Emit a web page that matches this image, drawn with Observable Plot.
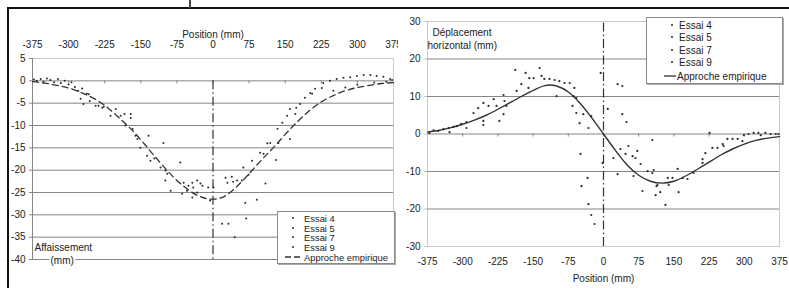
<!DOCTYPE html>
<html><head><meta charset="utf-8">
<script src="https://cdn.jsdelivr.net/npm/d3@7"></script>
<script src="https://cdn.jsdelivr.net/npm/@observablehq/plot@0.6"></script>
<style>
body{margin:0;background:#fff;font-family:"Liberation Sans",Arial,sans-serif;}
#wrap{position:relative;width:789px;height:288px;overflow:hidden;background:#fff;}
.pane{position:absolute;top:0;overflow:hidden;}
.deco{position:absolute;background:#111;}
.legend{position:absolute;background:#fff;border:1px solid #8a8a8a;box-shadow:1px 1px 0 #aaa;color:#222;}
.legend .row{position:absolute;white-space:nowrap;line-height:9px;transform:translateY(-50%);}
.legend svg{position:absolute;overflow:visible;}
</style></head>
<body><div id="wrap">
<div id="left" class="pane" style="left:0;width:398px;height:288px;"></div>
<div id="right" class="pane" style="left:398px;width:391px;height:288px;"></div>
<div class="deco" style="left:8px;top:7px;width:781px;height:2px;"></div>
<div class="deco" style="left:7px;top:7px;width:2px;height:281px;"></div>
<div class="deco" style="left:189px;top:0;width:1.5px;height:8px;background:#444;"></div>
</div>
<script>
// ---- shared ticks ----
const xTicks = [-375, -300, -225, -150, -75, 0, 75, 150, 225, 300, 375];
const yTicksLeft = [5, 0, -5, -10, -15, -20, -25, -30, -35, -40];
const yTicksRight = [30, 20, 10, 0, -10, -20, -30];
const seriesNames = ["Essai 4", "Essai 5", "Essai 7", "Essai 9"];
const curveName = "Approche empirique";

// ---- empirical curves ----
const curveX = [-375,-350,-325,-300,-275,-250,-225,-200,-175,-150,-125,-100,-75,-50,-25,0,25,50,75,100,125,150,175,200,225,250,275,300,325,350,375];
const curveAffaissement = [-0.2,-0.5,-1.0,-1.6,-2.6,-3.8,-5.5,-7.8,-10.3,-13.2,-16.4,-19.5,-22.3,-24.5,-26.0,-26.5,-25.8,-23.6,-20.8,-17.8,-15.0,-12.0,-9.2,-6.7,-4.7,-3.3,-2.2,-1.5,-1.0,-0.6,-0.4];
const curveDeplacement = [0.5,1.0,1.7,2.6,3.7,5.0,6.6,8.3,10.0,11.6,12.9,12.8,11.2,8.2,4.3,0,-4.3,-8.2,-11.0,-12.6,-13.1,-12.6,-11.2,-9.4,-7.5,-5.6,-4.0,-2.7,-1.7,-1.1,-0.7];

// ---- settlement measurements (left) ----
const essai4Left = [[-372,0.3],[-352,-0.2],[-330,-0.3],[-308,0.0],[-280,-2.2],[-275,-4.0],[-256,-4.5],[-230,-6.0],[-202,-6.3],[-171,-7.4],[-167,-10.8],[-134,-12.3],[-130,-17.9],[-109,-19.4],[-99,-22.3],[-51,-23.5],[-88,-24.6],[-43,-26.1],[-22,-23.5],[1,-23.9],[30,-22.8],[60,-22.3],[81,-17.9],[109,-23.0],[134,-10.7],[160,-6.3],[181,-5.2],[113,-14.0],[19,-32.0],[212,-1.8],[257,0.4],[313,1.3],[354,0.9],[275,-1.5]];
const essai5Left = [[-366,0.0],[-345,0.5],[-322,0.4],[-300,-0.8],[-272,-1.7],[-269,-5.2],[-244,-5.6],[-227,-5.8],[-192,-7.8],[-171,-8.3],[-161,-12.3],[-151,-15.0],[-122,-17.4],[-95,-20.8],[-68,-18.3],[-43,-22.8],[-64,-25.3],[-33,-25.0],[-10,-23.9],[26,-21.7],[42,-22.6],[63,-19.4],[98,-16.1],[119,-13.9],[144,-9.4],[173,-6.0],[191,-3.8],[67,-27.3],[32,-32.0],[226,-1.6],[271,0.7],[327,1.3],[368,0.4],[300,-0.9]];
const essai7Left = [[-358,0.4],[-338,0.2],[-316,-0.5],[-294,-0.3],[-262,-2.9],[-258,-3.0],[-238,-5.6],[-213,-7.8],[-184,-7.4],[-182,-10.0],[-157,-13.0],[-137,-16.8],[-103,-13.9],[-99,-20.1],[-61,-22.8],[-33,-22.3],[-54,-24.6],[-41,-23.9],[-26,-23.0],[39,-21.5],[50,-22.3],[74,-21.0],[105,-16.3],[131,-17.7],[154,-7.8],[171,-7.4],[206,-2.9],[91,-26.6],[69,-30.8],[229,-0.5],[285,0.8],[340,1.1],[250,-2.2],[335,-0.4]];
const essai9Left = [[-287,-1.4],[-6,-26.8],[136,-13.9],[160,-13.0],[45,-35.0],[202,-2.7],[243,0.0],[299,1.1],[360,-0.2],[372,0.2]];

// ---- horizontal displacement measurements (right) ----
const essai4Right = [[-371,0.3],[-341,1.3],[-320,1.9],[-292,1.6],[-267,6.9],[-256,2.4],[-228,7.5],[-213,10.4],[-188,17.1],[-149,14.9],[-126,14.7],[-94,14.1],[-62,12.3],[-160,12.3],[-64,10.1],[-51,2.9],[-26,4.8],[-47,-13.9],[-19,-24.0],[40,12.8],[-2,-7.7],[36,-4.0],[62,-5.9],[79,-8.0],[104,-10.4],[113,-13.9],[158,-9.3],[192,-10.4],[211,-7.7],[254,-2.7],[275,-1.3],[299,-0.3],[330,0.3],[356,0.0],[83,-15.2],[132,-18.9]];
const essai5Right = [[-362,1.0],[-330,1.6],[-313,2.1],[-292,3.2],[-256,8.3],[-245,7.5],[-222,3.5],[-207,7.5],[-166,16.3],[-136,17.6],[-115,14.7],[-83,13.6],[-185,11.5],[-100,10.1],[-66,7.5],[-43,5.3],[-49,-5.3],[-32,-18.7],[-6,16.3],[9,6.7],[21,-6.4],[47,-5.3],[68,-6.4],[64,-11.2],[107,-9.6],[137,-11.7],[169,-11.7],[211,-6.7],[232,-3.7],[256,-3.2],[286,-1.3],[309,0.0],[335,-0.3],[367,0.0],[111,-16.3],[160,-15.5]];
const essai7Right = [[-352,0.8],[-328,0.5],[-303,2.7],[-277,5.6],[-256,3.5],[-234,9.3],[-213,5.3],[-211,8.8],[-158,14.9],[-132,15.5],[-104,14.4],[-72,13.6],[-175,13.3],[-58,9.6],[-58,5.6],[-32,1.6],[-34,-11.7],[-26,-21.6],[30,13.3],[40,5.3],[49,3.2],[30,-10.7],[53,-3.2],[72,-4.5],[94,-9.9],[104,-1.6],[147,-11.7],[179,-12.0],[217,-5.1],[243,-3.7],[264,-1.3],[296,-1.9],[320,0.3],[345,0.3],[373,0.0],[226,0.3],[121,-15.5],[115,-13.6],[139,-13.6]];
const essai9Right = [];

// ---- axis reference lines (centre line x = 0) ----
const centreLeft = [{x: 0, y1: 0, y2: -40}];
const centreRight = [{x: 0, y1: -30, y2: 30}];

// ---- build tables ----
const curveL = curveX.map((x, i) => ({x, y: curveAffaissement[i]}));
const curveR = curveX.map((x, i) => ({x, y: curveDeplacement[i]}));
const pts = (arrs) => arrs.flatMap((a, k) => a.map(([x, y]) => ({x, y, s: seriesNames[k]})));
const ptsL = pts([essai4Left, essai5Left, essai7Left, essai9Left]);
const ptsR = pts([essai4Right, essai5Right, essai7Right, essai9Right]);
const tickMarks = (yTop, len) => xTicks.slice(1, -1).map(x => ({x, y1: yTop, y2: yTop - len}));

const fmt = d => String(d);
const style = {fontFamily: "'Liberation Sans', Arial, sans-serif", fontSize: "10px", color: "#222", background: "transparent"};
const gridC = "#858585", frameC = "#c9c9c9", inkC = "#2a2a2a";

// ---- left panel ----
const left = Plot.plot({
  width: 398, height: 288,
  marginLeft: 32, marginRight: 5, marginTop: 58, marginBottom: 29,
  style,
  x: {domain: [-375, 375]},
  y: {domain: [-40, 5]},
  marks: [
    Plot.frame({stroke: frameC}),
    Plot.ruleY(yTicksLeft.filter(v => v < 0), {stroke: gridC}),
    Plot.ruleY([0], {stroke: gridC}),
    Plot.ruleX(tickMarks(0, 0.7), {x: "x", y1: "y1", y2: "y2", stroke: gridC}),
    Plot.ruleX([-375], {stroke: gridC}),
    Plot.ruleX(centreLeft, {x: "x", y1: "y1", y2: "y2", stroke: "#333", strokeWidth: 1.2, strokeDasharray: "9,3,1.5,3"}),
    Plot.line(curveL, {x: "x", y: "y", stroke: "#333", strokeWidth: 1.3, strokeDasharray: "6,4", curve: "natural"}),
    Plot.dot(ptsL, {x: "x", y: "y", r: 1, fill: inkC, stroke: "none"}),
    Plot.axisX({anchor: "top", ticks: xTicks, tickSize: 0, tickPadding: 11, tickFormat: fmt, label: null}),
    Plot.axisY({ticks: yTicksLeft, tickSize: 3, tickPadding: 4, stroke: gridC, tickFormat: fmt, label: null}),
    Plot.text(["Position (mm)"], {frameAnchor: "top", dy: -24, lineAnchor: "middle", fill: "#222"}),
    Plot.text(["Affaissement"], {frameAnchor: "bottom-left", dx: 2, dy: -12, textAnchor: "start", lineAnchor: "middle", fill: "#222"}),
    Plot.text(["(mm)"], {frameAnchor: "bottom-left", dx: 18, dy: 1, textAnchor: "start", lineAnchor: "middle", fill: "#222", stroke: "white", strokeWidth: 4})
  ]
});
document.getElementById("left").appendChild(left);

// ---- right panel ----
const right = Plot.plot({
  width: 391, height: 288,
  marginLeft: 29, marginRight: 10, marginTop: 21, marginBottom: 42,
  style,
  x: {domain: [-375, 375]},
  y: {domain: [-30, 30]},
  marks: [
    Plot.frame({stroke: frameC}),
    Plot.ruleY(yTicksRight.filter(v => Math.abs(v) < 30 && v !== 0), {stroke: gridC}),
    Plot.ruleY([0], {stroke: gridC}),
    Plot.ruleX(tickMarks(0, 0.8), {x: "x", y1: "y1", y2: "y2", stroke: gridC}),
    Plot.ruleX(centreRight, {x: "x", y1: "y1", y2: "y2", stroke: "#333", strokeWidth: 1.2, strokeDasharray: "9,3,1.5,3"}),
    Plot.line(curveR, {x: "x", y: "y", stroke: "#333", strokeWidth: 1.4, curve: "natural"}),
    Plot.dot(ptsR, {x: "x", y: "y", r: 1.1, fill: inkC, stroke: "none"}),
    Plot.axisX({anchor: "bottom", ticks: xTicks, tickSize: 0, tickPadding: 11, tickFormat: fmt, label: null}),
    Plot.axisY({ticks: yTicksRight, tickSize: 3, tickPadding: 4, stroke: frameC, tickFormat: fmt, label: null}),
    Plot.text(["Position (mm)"], {frameAnchor: "bottom", dy: 32, lineAnchor: "middle", fill: "#222"}),
    Plot.text(["Déplacement"], {frameAnchor: "top-left", dx: 5, dy: 11, textAnchor: "start", lineAnchor: "middle", fill: "#222"}),
    Plot.text(["horizontal (mm)"], {frameAnchor: "top-left", dx: 0, dy: 24, textAnchor: "start", lineAnchor: "middle", fill: "#222"})
  ]
});
document.getElementById("right").appendChild(right);

// ---- legends ----
function legend(cfg) {
  const box = document.createElement("div");
  box.className = "legend";
  Object.assign(box.style, {left: cfg.left + "px", top: cfg.top + "px", width: cfg.w + "px", height: cfg.h + "px", fontSize: cfg.fs + "px"});
  seriesNames.concat([curveName]).forEach((name, i) => {
    const yc = cfg.rows[i];
    const isCurve = i === seriesNames.length;
    const svg = document.createElementNS("http://www.w3.org/2000/svg", "svg");
    svg.setAttribute("width", 1); svg.setAttribute("height", 1);
    svg.style.left = "0px"; svg.style.top = yc + "px";
    if (isCurve) {
      const l = document.createElementNS("http://www.w3.org/2000/svg", "line");
      l.setAttribute("x1", cfg.lineX[0]); l.setAttribute("x2", cfg.lineX[1]);
      l.setAttribute("y1", 0); l.setAttribute("y2", 0);
      l.setAttribute("stroke", "#333"); l.setAttribute("stroke-width", 1.3);
      if (cfg.dash) l.setAttribute("stroke-dasharray", cfg.dash);
      svg.appendChild(l);
    } else {
      const c = document.createElementNS("http://www.w3.org/2000/svg", "circle");
      c.setAttribute("cx", cfg.dotX); c.setAttribute("cy", 0); c.setAttribute("r", 1);
      c.setAttribute("fill", inkC);
      svg.appendChild(c);
    }
    box.appendChild(svg);
    const t = document.createElement("div");
    t.className = "row";
    t.textContent = name;
    t.style.left = (isCurve ? cfg.curveTextX : cfg.textX) + "px";
    t.style.top = yc + "px";
    box.appendChild(t);
  });
  document.getElementById("wrap").appendChild(box);
}
legend({left: 277, top: 211, w: 116, h: 51, fs: 9.4, rows: [6, 16, 25, 35, 45], dotX: 15, textX: 26, curveTextX: 26, lineX: [7, 25], dash: "6,3"});
legend({left: 646, top: 17, w: 135, h: 65, fs: 10, rows: [7, 19, 32, 44, 58], dotX: 25, textX: 32, curveTextX: 30, lineX: [17, 29], dash: null});
</script>
</body></html>
